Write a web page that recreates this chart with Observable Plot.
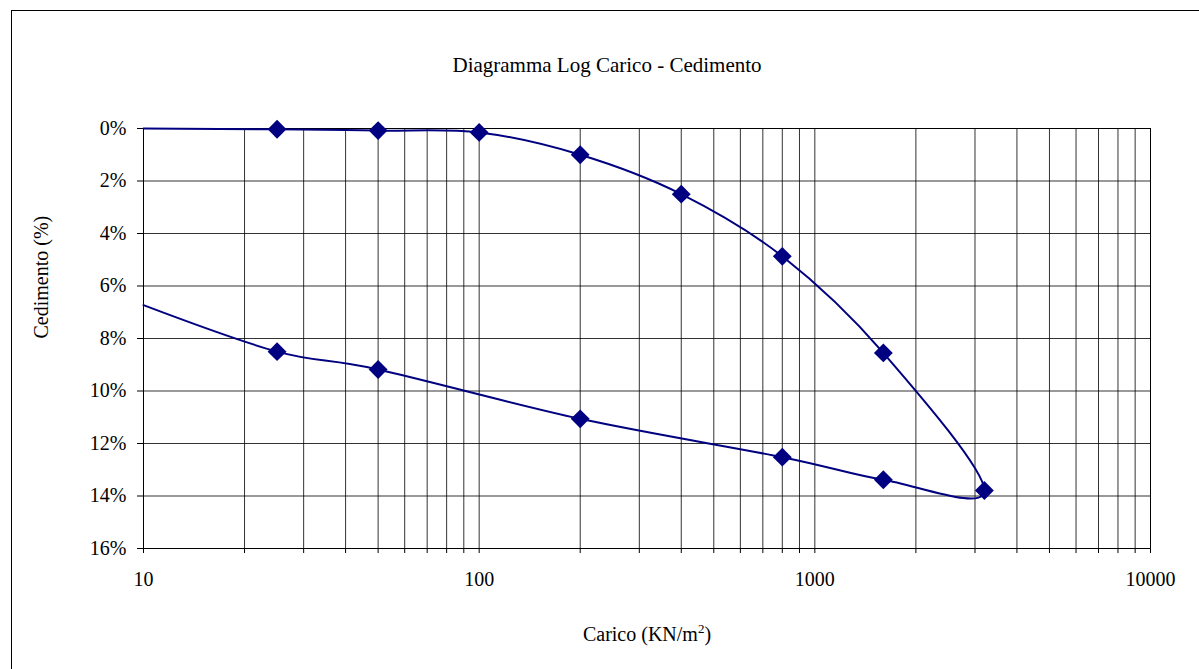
<!DOCTYPE html>
<html>
<head>
<meta charset="utf-8">
<script src="https://cdn.jsdelivr.net/npm/d3@7"></script>
<script src="https://cdn.jsdelivr.net/npm/@observablehq/plot@0.6"></script>
<style>
  html, body { margin: 0; padding: 0; background: #fff; font-family: "Liberation Serif", serif; }
  #wrap { position: relative; width: 1199px; height: 669px; overflow: hidden; }
  #border { position: absolute; left: 11px; top: 10px; right: -5px; bottom: -5px;
            border-left: 1px solid #000; border-top: 1px solid #000; pointer-events: none; }
</style>
</head>
<body>
<div id="wrap"><div id="border"></div></div>
<script>
// Data (load in KN/m², settlement in %) — loading then unloading path
const loads      = [10, 25, 50, 100, 200, 400, 800, 1600, 3200, 1600, 800, 200, 50, 25, 10];
const settlement = [0, 0.03, 0.08, 0.15, 1.0, 2.5, 4.87, 8.55, 13.79, 13.38, 12.52, 11.06, 9.18, 8.5, 6.73];
const hasMarker  = [false, true, true, true, true, true, true, true, true, true, true, true, true, true, false];

// Axis ticks
const xGridValues = [10, 20, 30, 40, 50, 60, 70, 80, 90,
                     100, 200, 300, 400, 500, 600, 700, 800, 900,
                     1000, 2000, 3000, 4000, 5000, 6000, 7000, 8000, 9000, 10000];
const xTickLabels = [10, 100, 1000, 10000];
const yTicks = [0, 2, 4, 6, 8, 10, 12, 14, 16];

const titleText = "Diagramma Log Carico - Cedimento";
const yLabelText = "Cedimento (%)";
const xLabelText = "Carico (KN/m2)";

const idx = loads.map((_, i) => i);
const markerIdx = idx.filter(i => hasMarker[i]);
const navy = "#000080";
const serif = "Liberation Serif, Times New Roman, serif";

const chart = Plot.plot({
  width: 1199,
  height: 669,
  marginLeft: 143,
  marginRight: 49,
  marginTop: 128,
  marginBottom: 121,
  style: { fontFamily: serif, fontSize: "20px", color: "#000", background: "transparent", overflow: "visible" },
  x: { type: "log", domain: [10, 10000] },
  y: { domain: [0, 16], reverse: true },
  marks: [
    Plot.gridX(xGridValues, { stroke: "#000", strokeOpacity: 0.8 }),
    Plot.gridY(yTicks, { stroke: "#000", strokeOpacity: 0.8 }),
    Plot.frame({ stroke: "#000" }),
    Plot.axisX(xGridValues, { tickSize: 5, tickPadding: 18, label: null, fontSize: 20,
      tickFormat: d => xTickLabels.includes(d) ? String(d) : "" }),
    Plot.axisY(yTicks, { tickSize: 6, tickPadding: 11, label: null, fontSize: 20, tickFormat: d => d + "%" }),
    Plot.line(idx, { x: i => loads[i], y: i => settlement[i], curve: "cardinal", tension: 0,
      stroke: navy, strokeWidth: 2 }),
    Plot.dot(markerIdx, { x: i => loads[i], y: i => settlement[i], symbol: "diamond2", r: 8.5,
      fill: navy, stroke: "none" }),
    Plot.text([titleText], { text: d => d, frameAnchor: "top", dy: -71, dx: -40, fontSize: 21, fill: "#000" }),
    Plot.text([yLabelText], { text: d => d, frameAnchor: "left", dx: -102, rotate: -90, fontSize: 20, fill: "#000" }),
    Plot.text([xLabelText], { text: d => d, frameAnchor: "bottom", dy: 92, fontSize: 20, fill: "#000" })
  ]
});

document.getElementById("wrap").appendChild(chart);

// Force the serif face on every text node
d3.select(chart).attr("font-family", serif).style("font-family", serif);
d3.select(chart).selectAll("g, text").attr("font-family", serif).style("font-family", serif);

// Superscript the "2" in the x label
d3.select(chart).selectAll("text").each(function() {
  if (this.textContent === xLabelText) {
    const t = d3.select(this);
    t.text(null);
    t.append("tspan").text("Carico (KN/m");
    t.append("tspan").attr("dy", -8).attr("font-size", 13).text("2");
    t.append("tspan").attr("dy", 8).text(")");
  }
});
</script>
</body>
</html>
